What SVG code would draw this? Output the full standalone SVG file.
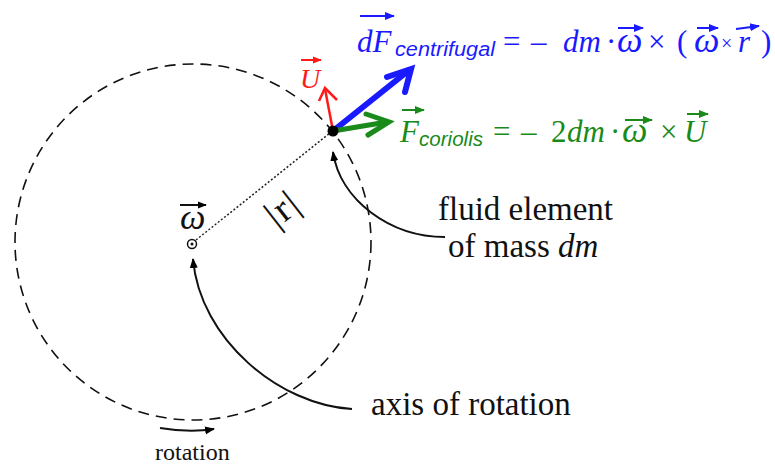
<svg xmlns="http://www.w3.org/2000/svg" width="775" height="464" viewBox="0 0 775 464">
<defs>
<marker id="hk" viewBox="0 0 10 10" refX="9" refY="5" markerWidth="10" markerHeight="10" markerUnits="userSpaceOnUse" orient="auto"><path d="M0,1 L10,5 L0,9 Z" fill="#000"/></marker>
<marker id="vk" viewBox="0 0 10 10" refX="9" refY="5" markerWidth="9" markerHeight="9" markerUnits="userSpaceOnUse" orient="auto"><path d="M0,1 L10,5 L0,9 Z" fill="#000"/></marker>
<marker id="vb" viewBox="0 0 10 10" refX="9" refY="5" markerWidth="10" markerHeight="10" markerUnits="userSpaceOnUse" orient="auto"><path d="M0,1 L10,5 L0,9 Z" fill="#1a1aff"/></marker>
<marker id="vg" viewBox="0 0 10 10" refX="9" refY="5" markerWidth="10" markerHeight="10" markerUnits="userSpaceOnUse" orient="auto"><path d="M0,1 L10,5 L0,9 Z" fill="#1a8a1a"/></marker>
<marker id="vr" viewBox="0 0 10 10" refX="9" refY="5" markerWidth="9" markerHeight="9" markerUnits="userSpaceOnUse" orient="auto"><path d="M0,1 L10,5 L0,9 Z" fill="#ff1a1a"/></marker>
</defs>
<style>
.serif{font-family:"Liberation Serif","Times New Roman",serif;}
.it{font-style:italic;}
.om{font-style:italic;font-size:36px;}
.sub{font-family:"Liberation Sans",Arial,sans-serif;font-style:italic;font-size:20px;}
.blue{fill:#1a1aff;}
.green{fill:#1a8a1a;}
.red{fill:#ff1a1a;}
.lbl{font-family:"Liberation Serif","Times New Roman",serif;font-size:33px;fill:#111;}
.vec{stroke-width:2;fill:none;}
.curve{fill:none;stroke:#111;stroke-width:2;}
</style>
<rect width="775" height="464" fill="#fff"/>

<g id="circle">
<circle cx="193" cy="242" r="178" fill="none" stroke="#111" stroke-width="1.6" stroke-dasharray="11 7"/>
</g>

<g id="connectors">
<line x1="196" y1="240" x2="330" y2="133" stroke="#222" stroke-width="1.5" stroke-dasharray="2 2"/>
<path class="curve" d="M352 409 C280 405 200 340 193 259" marker-end="url(#hk)"/>
<path class="curve" d="M445 237 C390 237 340 200 333 152" marker-end="url(#hk)"/>
<path class="curve" d="M160 428 Q190 433 214 429" marker-end="url(#hk)"/>
</g>

<g id="force-vectors">
<line x1="333" y1="131" x2="408" y2="71" stroke="#1a1aff" stroke-width="6"/>
<polyline points="387,77 411,69 405,92" fill="none" stroke="#1a1aff" stroke-width="6" stroke-linejoin="miter" stroke-linecap="round"/>
<line x1="333" y1="131" x2="387" y2="122" stroke="#1a8a1a" stroke-width="5"/>
<polyline points="366,114 389,122 368,135" fill="none" stroke="#1a8a1a" stroke-width="5" stroke-linejoin="miter" stroke-linecap="round"/>
<line x1="333" y1="131" x2="325" y2="89" stroke="#ff1a1a" stroke-width="2.5"/>
<polyline points="319,101 325,88 337,100" fill="none" stroke="#ff1a1a" stroke-width="2.5" stroke-linejoin="miter"/>
</g>

<g id="fluid-element">
<circle cx="333" cy="131" r="5.5" fill="#000"/>
</g>

<g id="axis">
<circle cx="192" cy="244" r="4.5" fill="#fff" stroke="#111" stroke-width="1.5"/>
<circle cx="192" cy="244" r="1.5" fill="#111"/>
<text class="serif om" x="180" y="229" fill="#111" font-size="34">ω</text>
<line class="vec" x1="180" y1="205" x2="206" y2="205" stroke="#111" marker-end="url(#vk)"/>
</g>

<g id="radius-label">
<text class="serif" transform="translate(282,208) rotate(-38)" text-anchor="middle" dominant-baseline="central" font-size="38" letter-spacing="2" fill="#111">|r|</text>
</g>

<g id="velocity-label">
<text class="serif it red" x="300" y="88" font-size="28">U</text>
<line class="vec" x1="301" y1="60" x2="321" y2="60" stroke="#ff1a1a" marker-end="url(#vr)"/>
</g>

<g id="centrifugal-formula" class="serif blue" font-size="31">
<text class="it" x="357" y="52">dF</text>
<text class="sub" x="395" y="56" textLength="100" lengthAdjust="spacingAndGlyphs">centrifugal</text>
<text x="503" y="52">=</text>
<text x="531" y="52">–</text>
<text class="it" x="563" y="52">dm</text>
<text x="606" y="52">·</text>
<text class="om" x="617" y="52">ω</text>
<text x="648" y="52">×</text>
<text x="677" y="52">(</text>
<text class="om" x="694" y="52" font-size="33">ω</text>
<text x="721" y="50" font-size="20">×</text>
<text class="it" x="738" y="52">r</text>
<text x="761" y="52">)</text>
<line class="vec" x1="360" y1="16" x2="394" y2="16" stroke="#1a1aff" marker-end="url(#vb)"/>
<line class="vec" x1="618" y1="28" x2="643" y2="28" stroke="#1a1aff" marker-end="url(#vb)"/>
<line class="vec" x1="697" y1="28" x2="718" y2="28" stroke="#1a1aff" marker-end="url(#vb)"/>
<line class="vec" x1="736" y1="29" x2="759" y2="26" stroke="#1a1aff" marker-end="url(#vb)"/>
</g>

<g id="coriolis-formula" class="serif green" font-size="31">
<text class="it" x="400" y="142">F</text>
<text class="sub" x="419" y="146" textLength="64" lengthAdjust="spacingAndGlyphs">coriolis</text>
<text x="493" y="142">=</text>
<text x="521" y="142">–</text>
<text x="551" y="142">2</text>
<text class="it" x="567" y="142">dm</text>
<text x="610" y="142">·</text>
<text class="om" x="622" y="142">ω</text>
<text x="660" y="142">×</text>
<text class="it" x="684" y="142">U</text>
<line class="vec" x1="402" y1="110" x2="424" y2="110" stroke="#1a8a1a" marker-end="url(#vg)"/>
<line class="vec" x1="625" y1="120" x2="652" y2="120" stroke="#1a8a1a" marker-end="url(#vg)"/>
<line class="vec" x1="687" y1="114" x2="708" y2="114" stroke="#1a8a1a" marker-end="url(#vg)"/>
</g>

<g id="label-fluid">
<text class="lbl" x="438" y="220">fluid element</text>
<text class="lbl" x="448" y="257">of mass <tspan font-style="italic">dm</tspan></text>
</g>

<g id="label-axis">
<text class="lbl" x="371" y="415">axis of rotation</text>
</g>

<g id="label-rotation">
<text class="serif" x="155" y="460" font-size="24" fill="#111">rotation</text>
</g>
</svg>
